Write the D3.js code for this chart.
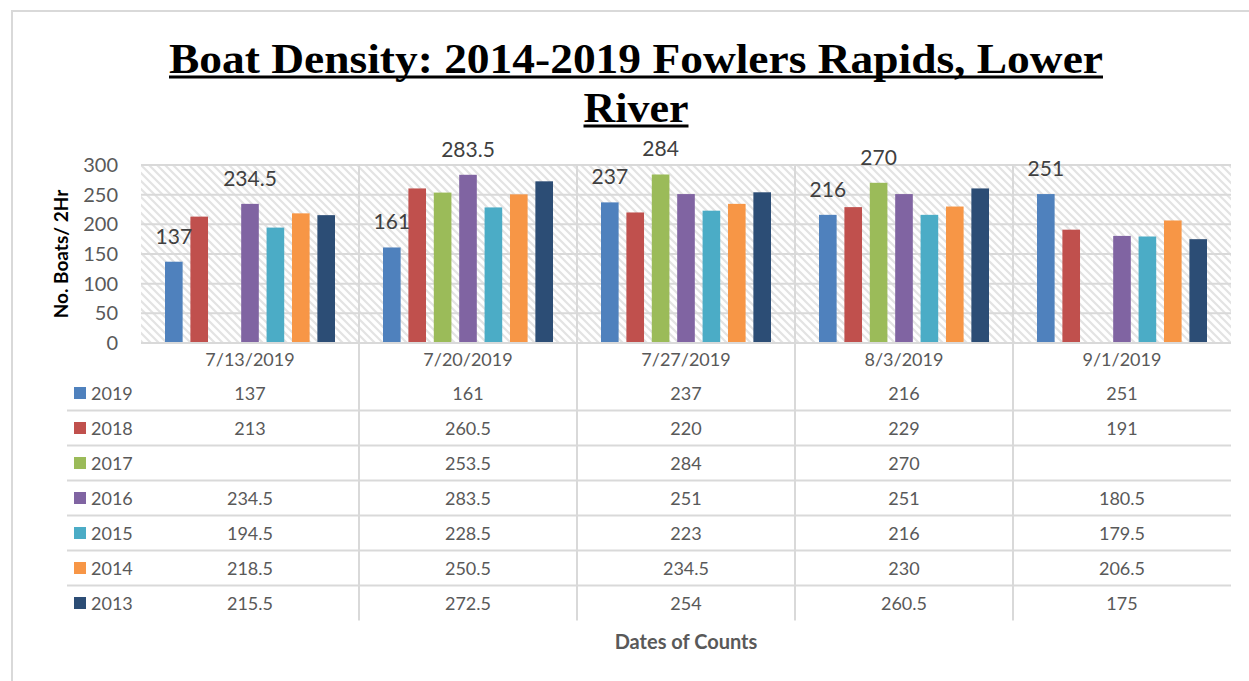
<!DOCTYPE html>
<html>
<head>
<meta charset="utf-8">
<script src="https://cdn.jsdelivr.net/npm/d3@7"></script>
<style>
  body { margin: 0; background: #fff; }
  svg { display: block; }
</style>
</head>
<body>
<svg id="chart" width="1249" height="681"></svg>
<script>
// data
var dates = ['7/13/2019', '7/20/2019', '7/27/2019', '8/3/2019', '9/1/2019'];
var years = ['2019', '2018', '2017', '2016', '2015', '2014', '2013'];
var colors = ['#4F81BD', '#C0504D', '#9BBB59', '#8064A2', '#4BACC6', '#F79646', '#2C4D75'];
var v2019 = [137, 161, 237, 216, 251];
var v2018 = [213, 260.5, 220, 229, 191];
var v2017 = [null, 253.5, 284, 270, null];
var v2016 = [234.5, 283.5, 251, 251, 180.5];
var v2015 = [194.5, 228.5, 223, 216, 179.5];
var v2014 = [218.5, 250.5, 234.5, 230, 206.5];
var v2013 = [215.5, 272.5, 254, 260.5, 175];
var yTicks = [0, 50, 100, 150, 200, 250, 300];

var series = [v2019, v2018, v2017, v2016, v2015, v2014, v2013].map(function(vals, i) {
    return { year: years[i], color: colors[i], values: vals };
});

var svg = d3.select('#chart');
var gridColor = '#D9D9D9';
var textGray = '#595959';

// outer chart border
svg.append('path')
    .attr('d', 'M12,681 V11 H1249')
    .attr('fill', 'none')
    .attr('stroke', gridColor)
    .attr('stroke-width', 2);

// plot geometry
var plotLeft = 141, plotRight = 1231, plotTop = 165, plotBottom = 343;
var x0 = d3.scaleBand().domain(dates).range([plotLeft, plotRight]).padding(0);
var x1 = d3.scaleBand().domain(years).range([24, x0.bandwidth() - 24]).paddingInner(0.306);
var y = d3.scaleLinear().domain([0, 300]).range([plotBottom, plotTop]);

// hatch background
var defs = svg.append('defs');
var pat = defs.append('pattern')
    .attr('id', 'hatch')
    .attr('patternUnits', 'userSpaceOnUse')
    .attr('width', 8).attr('height', 8);
pat.append('rect').attr('width', 8).attr('height', 8).attr('fill', '#fff');
pat.append('path')
    .attr('d', 'M-2,-2 L10,10 M-2,6 L2,10 M6,-2 L10,2')
    .attr('stroke', '#E3E3E3')
    .attr('stroke-width', 2.2);

svg.append('rect')
    .attr('x', plotLeft).attr('y', plotTop)
    .attr('width', plotRight - plotLeft).attr('height', plotBottom - plotTop)
    .attr('fill', 'url(#hatch)');

// horizontal gridlines
svg.append('g').selectAll('line')
    .data(yTicks)
    .enter().append('line')
    .attr('x1', plotLeft).attr('x2', plotRight)
    .attr('y1', function(d) { return y(d); })
    .attr('y2', function(d) { return y(d); })
    .attr('stroke', gridColor)
    .attr('stroke-width', 2);

// y axis labels
var yAxis = d3.axisLeft(y).tickValues(yTicks).tickSize(0).tickPadding(0);
var yg = svg.append('g')
    .attr('transform', 'translate(118,0)')
    .call(yAxis);
yg.select('.domain').remove();
yg.selectAll('text')
    .attr('font-family', 'Lato, "Liberation Sans", sans-serif')
    .attr('font-size', 20)
    .attr('fill', textGray);

// table geometry
var tableLeft = 67;
var rowH = 35;
var headerMid = 359;
var firstRowMid = 393;
var tableBottom = firstRowMid + rowH * (years.length - 0.5);

// vertical category separators (plot + table)
svg.append('g').selectAll('line')
    .data(dates.slice(1))
    .enter().append('line')
    .attr('x1', function(d) { return x0(d); })
    .attr('x2', function(d) { return x0(d); })
    .attr('y1', plotTop).attr('y2', tableBottom)
    .attr('stroke', gridColor)
    .attr('stroke-width', 2);

// table row separators
svg.append('g').selectAll('line')
    .data(years.slice(1))
    .enter().append('line')
    .attr('x1', tableLeft).attr('x2', plotRight)
    .attr('y1', function(d, i) { return firstRowMid + rowH * (i + 0.5); })
    .attr('y2', function(d, i) { return firstRowMid + rowH * (i + 0.5); })
    .attr('stroke', gridColor)
    .attr('stroke-width', 2);

// bars
var groups = svg.append('g').selectAll('g')
    .data(series)
    .enter().append('g')
    .attr('fill', function(d) { return d.color; });

groups.selectAll('rect')
    .data(function(s) {
        return s.values.map(function(v, i) { return { year: s.year, date: dates[i], value: v }; })
            .filter(function(d) { return d.value != null; });
    })
    .enter().append('rect')
    .attr('x', function(d) { return x0(d.date) + x1(d.year); })
    .attr('width', x1.bandwidth())
    .attr('y', function(d) { return y(d.value); })
    .attr('height', function(d) { return y(0) - y(d.value); });

// data labels: the 2019 series plus the tallest bar of each date
var labels = [];
dates.forEach(function(date, i) {
    var best = null;
    series.forEach(function(s) {
        var v = s.values[i];
        if (v == null) return;
        if (!best || v > best.value) best = { year: s.year, date: date, value: v };
    });
    labels.push({ year: '2019', date: date, value: v2019[i] });
    if (best.year !== '2019') labels.push(best);
});

svg.append('g').selectAll('text')
    .data(labels)
    .enter().append('text')
    .attr('x', function(d) { return x0(d.date) + x1(d.year) + x1.bandwidth() / 2; })
    .attr('y', function(d) { return y(d.value) - 18; })
    .attr('text-anchor', 'middle')
    .attr('font-family', 'Lato, "Liberation Sans", sans-serif')
    .attr('font-size', 21)
    .attr('fill', '#404040')
    .text(function(d) { return d.value; });

// axis baseline
svg.append('line')
    .attr('x1', plotLeft).attr('x2', plotRight)
    .attr('y1', y(0)).attr('y2', y(0))
    .attr('stroke', gridColor)
    .attr('stroke-width', 2);

// date header row
svg.append('g').selectAll('text')
    .data(dates)
    .enter().append('text')
    .attr('x', function(d) { return x0(d) + x0.bandwidth() / 2; })
    .attr('y', headerMid + 6.5)
    .attr('text-anchor', 'middle')
    .attr('font-family', 'Lato, "Liberation Sans", sans-serif')
    .attr('font-size', 18)
    .attr('fill', textGray)
    .text(function(d) { return d; });

// table rows: legend key + values
var rows = svg.append('g').selectAll('g')
    .data(series)
    .enter().append('g')
    .attr('transform', function(d, i) { return 'translate(0,' + (firstRowMid + rowH * i) + ')'; });

rows.append('rect')
    .attr('x', 74).attr('y', -6)
    .attr('width', 12).attr('height', 12)
    .attr('fill', function(d) { return d.color; });

rows.append('text')
    .attr('x', 91).attr('y', 6.5)
    .attr('font-family', 'Lato, "Liberation Sans", sans-serif')
    .attr('font-size', 18)
    .attr('fill', textGray)
    .text(function(d) { return d.year; });

rows.selectAll('text.val')
    .data(function(s) { return s.values.map(function(v, i) { return { date: dates[i], value: v }; }); })
    .enter().append('text')
    .attr('class', 'val')
    .attr('x', function(d) { return x0(d.date) + x0.bandwidth() / 2; })
    .attr('y', 6.5)
    .attr('text-anchor', 'middle')
    .attr('font-family', 'Lato, "Liberation Sans", sans-serif')
    .attr('font-size', 18)
    .attr('fill', textGray)
    .text(function(d) { return d.value == null ? '' : d.value; });

// axis titles
svg.append('text')
    .attr('transform', 'translate(68,254) rotate(-90)')
    .attr('text-anchor', 'middle')
    .attr('font-family', 'Lato, "Liberation Sans", sans-serif')
    .attr('font-weight', 'bold')
    .attr('font-size', 19)
    .attr('fill', '#000')
    .text('No. Boats/ 2Hr');

svg.append('text')
    .attr('x', 686).attr('y', 649)
    .attr('text-anchor', 'middle')
    .attr('font-family', 'Lato, "Liberation Sans", sans-serif')
    .attr('font-weight', 'bold')
    .attr('font-size', 20)
    .attr('fill', textGray)
    .text('Dates of Counts');

// title, two underlined lines
var titleLines = [
    { text: 'Boat Density: 2014-2019 Fowlers Rapids, Lower', base: 73, width: 934 },
    { text: 'River', base: 122, width: 105 }
];
titleLines.forEach(function(t) {
    var el = svg.append('text')
        .attr('x', 636).attr('y', t.base)
        .attr('text-anchor', 'middle')
        .attr('font-family', '"Liberation Serif", "DejaVu Serif", serif')
        .attr('font-weight', 'bold')
        .attr('font-size', 42)
        .attr('textLength', t.width)
        .attr('lengthAdjust', 'spacingAndGlyphs')
        .attr('fill', '#000')
        .text(t.text);
    svg.append('line')
        .attr('x1', 636 - t.width / 2).attr('x2', 636 + t.width / 2)
        .attr('y1', t.base + 4).attr('y2', t.base + 4)
        .attr('stroke', '#000')
        .attr('stroke-width', 3);
});
</script>
</body>
</html>
